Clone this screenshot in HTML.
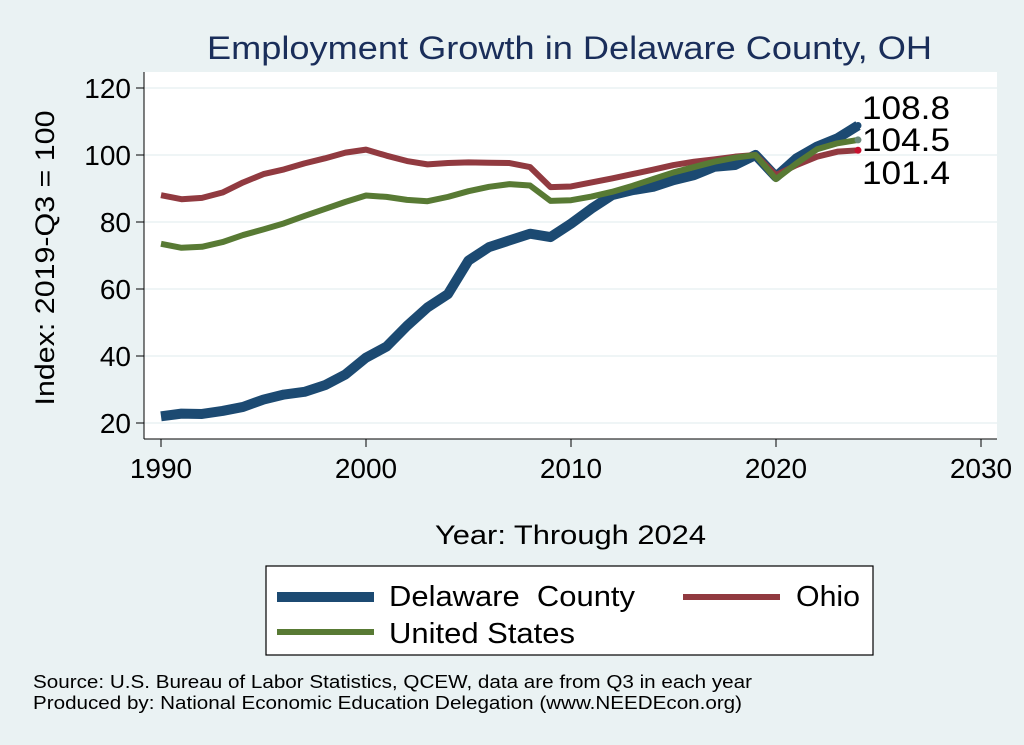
<!DOCTYPE html>
<html><head><meta charset="utf-8"><style>
body{margin:0;background:#eaf2f3;font-family:"Liberation Sans",Arial,sans-serif}
svg{display:block}
</style></head><body>
<svg width="1024" height="745" viewBox="0 0 1024 745">
<rect x="0" y="0" width="1024" height="745" fill="#eaf2f3"/>
<text x="207" y="59" font-size="32" fill="#1a2e5a" textLength="725" lengthAdjust="spacingAndGlyphs">Employment Growth in Delaware County, OH</text>
<rect x="144" y="72" width="853" height="367" fill="#fff"/>
<g id="grid"></g><g id="axes"></g><g id="series"></g><g id="labels"></g>
<text transform="translate(54,258) rotate(-90)" text-anchor="middle" font-size="27" fill="#000" textLength="295" lengthAdjust="spacingAndGlyphs">Index: 2019-Q3 = 100</text>
<text x="435" y="544" font-size="27" fill="#000" textLength="271" lengthAdjust="spacingAndGlyphs">Year: Through 2024</text>
<g>
<rect x="266" y="566" width="607" height="89" fill="#fff" stroke="#000" stroke-width="1.2"/>
<line x1="277" y1="597" x2="374" y2="597" stroke="#1c4a72" stroke-width="10"/>
<text x="389" y="606" font-size="29" textLength="246" lengthAdjust="spacingAndGlyphs" style="white-space:pre">Delaware  County</text>
<line x1="683" y1="597" x2="780" y2="597" stroke="#913a40" stroke-width="6"/>
<text x="796" y="606" font-size="29" textLength="64" lengthAdjust="spacingAndGlyphs">Ohio</text>
<line x1="277" y1="632" x2="374" y2="632" stroke="#587a34" stroke-width="6"/>
<text x="389" y="643" font-size="29" textLength="186" lengthAdjust="spacingAndGlyphs">United States</text>
</g>
<text x="33" y="688" font-size="18" textLength="719" lengthAdjust="spacingAndGlyphs">Source: U.S. Bureau of Labor Statistics, QCEW, data are from Q3 in each year</text>
<text x="33" y="709" font-size="18" textLength="709" lengthAdjust="spacingAndGlyphs">Produced by: National Economic Education Delegation (www.NEEDEcon.org)</text>
</svg>
<script>
const years=[1990,1991,1992,1993,1994,1995,1996,1997,1998,1999,2000,2001,2002,2003,2004,2005,2006,2007,2008,2009,2010,2011,2012,2013,2014,2015,2016,2017,2018,2019,2020,2021,2022,2023,2024];
const delaware=[22,22.8,22.7,23.6,24.8,27,28.5,29.3,31.3,34.5,39.5,42.8,49,54.5,58.5,68.5,72.5,74.5,76.5,75.5,79.5,84,88,89.5,90.5,92.5,94,96.5,97,100,93.5,99,102.5,105,108.8];
const ohio=[88,86.8,87.2,88.8,91.8,94.3,95.7,97.5,99,100.7,101.6,99.8,98.2,97.2,97.6,97.8,97.7,97.6,96.4,90.4,90.6,91.8,93,94.3,95.6,97,98,98.7,99.5,100,94,97,99.5,101,101.4];
const us=[73.5,72.3,72.6,74,76.1,77.8,79.6,81.8,83.9,86,87.9,87.5,86.6,86.2,87.5,89.2,90.5,91.3,90.9,86.3,86.5,87.6,89,90.8,92.8,94.8,96.4,98,99.2,100,92.8,97.5,101.7,103.5,104.5];
const yTicks=[20,40,60,80,100,120];
const xTicks=[1990,2000,2010,2020,2030];
const NS='http://www.w3.org/2000/svg';
const xs=v=>161+(v-1990)*20.5;
const ys=v=>423-(v-20)*3.35;
function mk(tag,attrs,parent){const e=document.createElementNS(NS,tag);for(const k in attrs)e.setAttribute(k,attrs[k]);document.getElementById(parent).appendChild(e);return e;}
yTicks.forEach(t=>{
 let g=mk('line',{x1:144,x2:997,y1:ys(t),y2:ys(t),stroke:'#eaf2f3','stroke-width':1.5},'grid');
 
 
 let tk=mk('line',{x1:136,x2:144,y1:ys(t),y2:ys(t),stroke:'#000','stroke-width':1},'axes');
 
 
 let tx=mk('text',{x:131,y:ys(t)+10,'text-anchor':'end','font-size':28},'axes');
 tx.textContent=t;
 
 
});
xTicks.forEach(t=>{
 let tk=mk('line',{x1:xs(t),x2:xs(t),y1:439,y2:447,stroke:'#000','stroke-width':1},'axes');
 
 
 let tx=mk('text',{x:xs(t),y:478,'text-anchor':'middle','font-size':28},'axes');
 tx.textContent=t;
 
 
});
let ax=mk('line',{x1:144,x2:144,y1:72,y2:439,stroke:'#000','stroke-width':1},'axes');


let ax2=mk('line',{x1:144,x2:997,y1:439,y2:439,stroke:'#000','stroke-width':1},'axes');


function line(data,color,w,name,dot){
 const p=mk('polyline',{points:data.map((v,i)=>xs(years[i])+','+ys(v)).join(' '),fill:'none',stroke:color,'stroke-width':w,'stroke-linejoin':'round'},'series');
 
 
 const c=mk('circle',{cx:xs(years[years.length-1]),cy:ys(data[data.length-1]),r:3.5,fill:dot},'series');
 
 
}
line(delaware,'#1c4a72',10,'delaware-line','#1c4a72');
line(ohio,'#913a40',6,'ohio-line','#c8102e');
line(us,'#587a34',6,'us-line','#6a8a7a');
[[delaware,119,'108.8'],[us,151,'104.5'],[ohio,184,'101.4']].forEach(([d,y,lbl])=>{
 const t=mk('text',{x:862,y:y,'font-size':32,textLength:88,lengthAdjust:'spacingAndGlyphs'},'labels');
 t.textContent=d[d.length-1].toFixed(1);
 
 
});
</script>
</body></html>
